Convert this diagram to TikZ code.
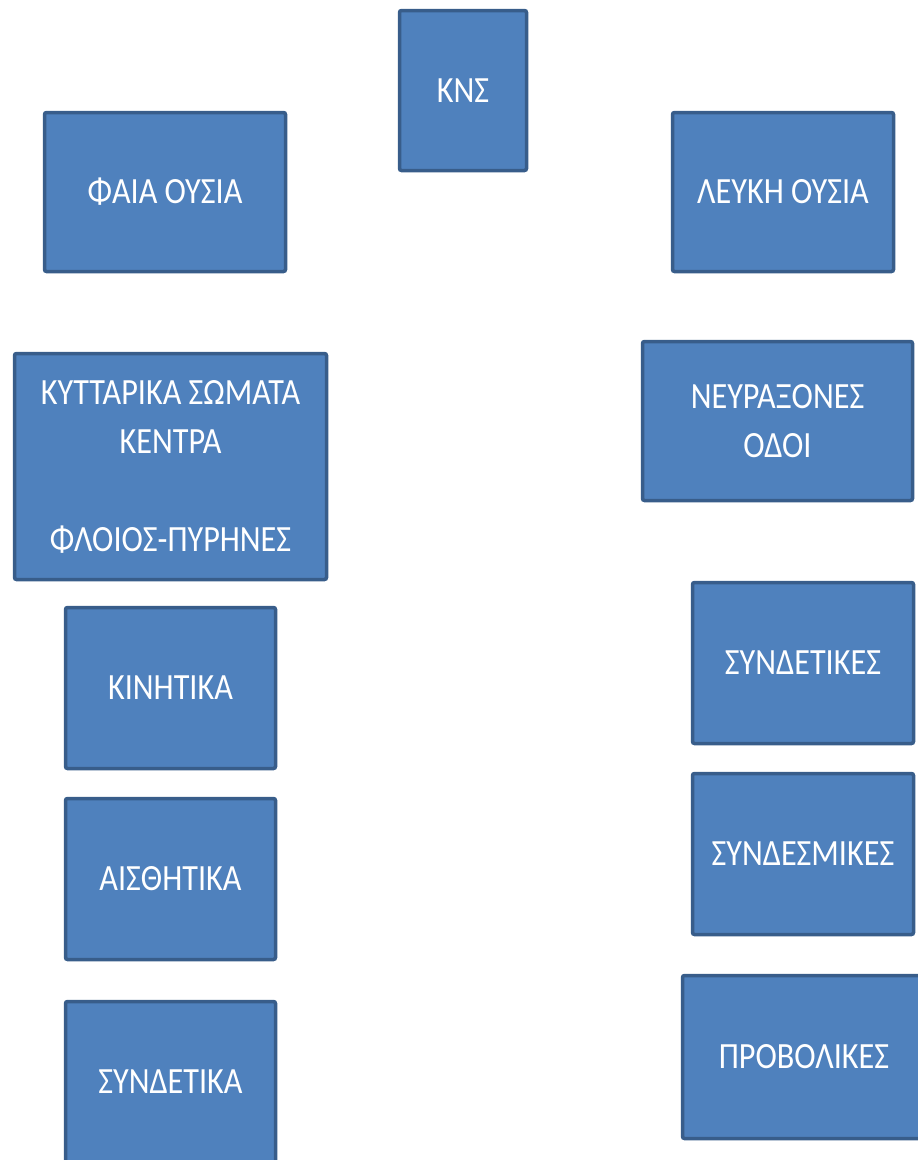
\documentclass[tikz,border=0pt]{standalone}
\usepackage{fontspec}
\setmainfont{Carlito}[FakeStretch=0.87]
\usepackage{xcolor}
\usetikzlibrary{positioning}
\definecolor{boxfill}{HTML}{4F81BD}
\definecolor{boxline}{HTML}{385D8A}

\begin{document}
\begin{tikzpicture}[x=1pt, y=-1pt]

    % Define style for the boxes
    \tikzstyle{block} = [rectangle, rounded corners=2pt, draw=boxline, line width=3.5pt, fill=boxfill, text=white, align=center, inner sep=0pt, font=\fontsize{37}{49}\selectfont]

    \useasboundingbox (0,0) rectangle (918,1160);

    % Top
    \node (kns) [block, minimum width=127pt, minimum height=160pt] at (463,90.5) {ΚΝΣ};

    % Left column
    \node (faia) [block, minimum width=241pt, minimum height=159pt] at (165,192) {ΦΑΙΑ ΟΥΣΙΑ};
    \node (kyttara) [block, minimum width=312pt, minimum height=226pt] at (170.5,466.5) {ΚΥΤΤΑΡΙΚΑ ΣΩΜΑΤΑ\\ΚΕΝΤΡΑ\\~\\ΦΛΟΙΟΣ-ΠΥΡΗΝΕΣ};
    \node (kinitika) [block, minimum width=210pt, minimum height=161pt] at (170.5,688) {ΚΙΝΗΤΙΚΑ};
    \node (aisthitika) [block, minimum width=210pt, minimum height=161pt] at (170.5,879) {ΑΙΣΘΗΤΙΚΑ};
    \node (syndetika) [block, minimum width=210pt, minimum height=161pt] at (170.5,1082) {ΣΥΝΔΕΤΙΚΑ};

    % Right column
    \node (leuki) [block, minimum width=221pt, minimum height=159pt] at (783,192) {ΛΕΥΚΗ ΟΥΣΙΑ};
    \node (neyraxones) [block, minimum width=270pt, minimum height=159pt] at (777.5,421) {ΝΕΥΡΑΞΟΝΕΣ\\ΟΔΟΙ};
    \node (syndetikes) [block, minimum width=221pt, minimum height=161pt] at (803,663) {ΣΥΝΔΕΤΙΚΕΣ};
    \node (syndesmikes) [block, minimum width=221pt, minimum height=161pt] at (803,854) {ΣΥΝΔΕΣΜΙΚΕΣ};
    \node (provolikes) [block, minimum width=243pt, minimum height=163pt] at (804,1057) {ΠΡΟΒΟΛΙΚΕΣ};

\end{tikzpicture}
\end{document}
